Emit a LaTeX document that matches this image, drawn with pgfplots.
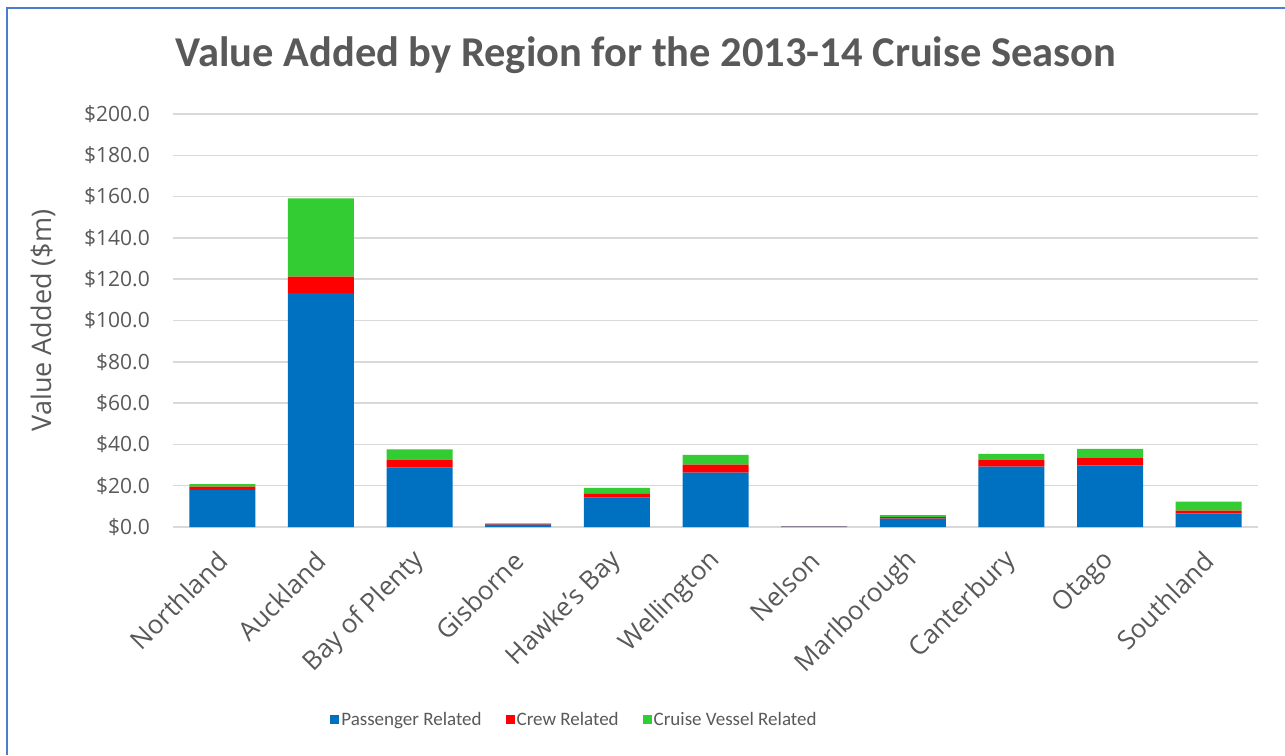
\documentclass[border=0pt]{standalone}
\usepackage{pgfplots}
\pgfplotsset{compat=1.18}
\usepackage{fontspec}
\setmainfont{Open Sans}
\newfontfamily\calibri{Carlito}
\definecolor{pblue}{HTML}{0070C0}
\definecolor{pred}{HTML}{FF0000}
\definecolor{pgreen}{HTML}{33CC33}
\definecolor{txtgray}{HTML}{595959}
\definecolor{gridgray}{HTML}{D9D9D9}
\definecolor{framecol}{HTML}{4A7EC8}
\begin{document}
\begin{tikzpicture}[x=1pt,y=1pt]
\useasboundingbox (0,0) rectangle (1285,755);
\fill[white] (0,0) rectangle (1285,755);
\draw[framecol, line width=1.5pt] (7,0) -- (7,747) -- (1285,747);
\node[font=\calibri\bfseries\fontsize{42.5}{46}\selectfont, text=txtgray] at (646,700) {Value Added by Region for the 2013-14 Cruise Season};
\begin{axis}[
  at={(173pt,228pt)}, anchor=south west,
  scale only axis, width=1085pt, height=413pt,
  ybar stacked, bar width=66pt,
  xmin=-0.5, xmax=10.5, ymin=0, ymax=200,
  ytick={0,20,...,200},
  xtick={0,...,10},
  xticklabels={Northland,Auckland,Bay of Plenty,Gisborne,Hawke's Bay,Wellington,Nelson,Marlborough,Canterbury,Otago,Southland},
  axis line style={draw=none},
  tick style={draw=none},
  ymajorgrids, major grid style={gridgray, line width=1.5pt},
  yticklabel={\$\pgfmathprintnumber[fixed,fixed zerofill,precision=1,assume math mode=true]{\tick}},
  yticklabel style={font=\fontsize{21}{24}\selectfont, text=txtgray, inner sep=0pt, anchor=east, xshift=-23pt},
  xticklabel style={font=\fontsize{26}{30}\selectfont, text=txtgray, inner sep=0pt, rotate=45, anchor=east, xshift=-20.5pt, yshift=-21.2pt},
  ylabel={Value Added (\$m)},
  every axis y label/.style={at={(rel axis cs:0,0.5)}, rotate=90, anchor=center, yshift=130pt, font=\fontsize{27}{30}\selectfont, text=txtgray},
  legend style={at={(0.370,-0.467)}, anchor=center, draw=none, fill=none,
    font=\calibri\fontsize{19}{22}\selectfont, text=txtgray,
    /tikz/every even column/.append style={column sep=22pt},
    legend cell align=left},
  legend columns=3,
  legend image code/.code={\fill[#1,draw=none] (0pt,-4.5pt) rectangle (9pt,4.5pt);},
]
\addplot[fill=pblue, draw=none] coordinates {(0,17.9) (1,113.2) (2,28.7) (3,1.2) (4,14.2) (5,26.3) (6,0.2) (7,4.0) (8,29.2) (9,29.9) (10,6.6)};
\addplot[fill=pred, draw=none] coordinates {(0,1.6) (1,8.0) (2,3.9) (3,0.2) (4,1.9) (5,3.9) (6,0.05) (7,0.8) (8,3.4) (9,3.4) (10,1.3)};
\addplot[fill=pgreen, draw=none] coordinates {(0,1.3) (1,38.0) (2,5.0) (3,0.3) (4,2.8) (5,4.7) (6,0.1) (7,1.0) (8,2.8) (9,4.5) (10,4.4)};
\legend{Passenger Related, Crew Related, Cruise Vessel Related}
\end{axis}
\end{tikzpicture}
\end{document}
